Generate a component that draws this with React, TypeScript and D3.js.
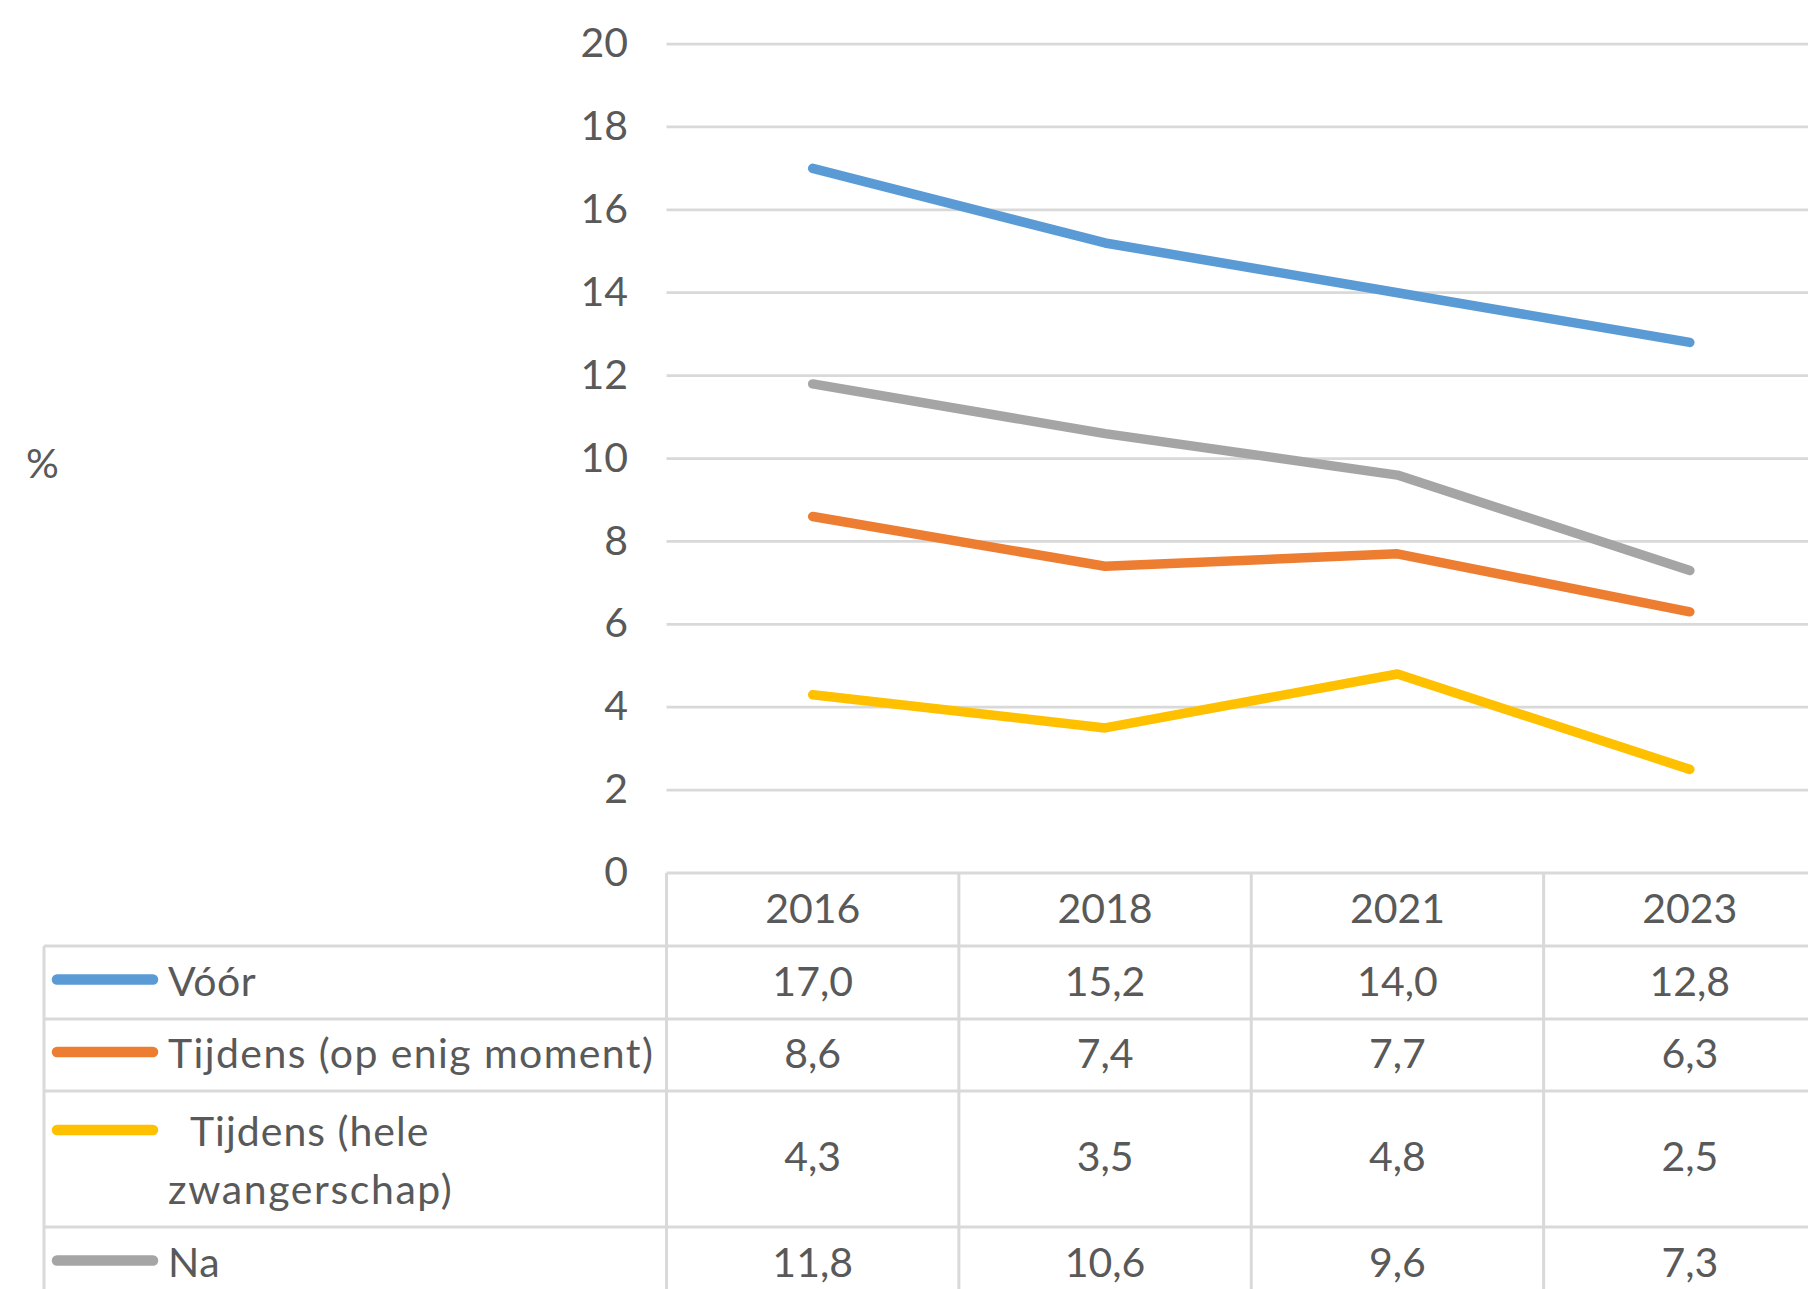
import React from "react";
import * as d3 from "d3";

const years = ["2016", "2018", "2021", "2023"];
const seriesNames = ["Vóór", "Tijdens (op enig moment)", "Tijdens (hele zwangerschap)", "Na"];
const voor = [17.0, 15.2, 14.0, 12.8];
const tijdensMoment = [8.6, 7.4, 7.7, 6.3];
const tijdensHele = [4.3, 3.5, 4.8, 2.5];
const na = [11.8, 10.6, 9.6, 7.3];
const yTicks = [0, 2, 4, 6, 8, 10, 12, 14, 16, 18, 20];
const colors = ["#5B9BD5", "#ED7D31", "#FFC000", "#A5A5A5"];

const W = 1808;
const H = 1289;
const FONT = "Lato, 'Noto Sans', sans-serif";
const TXT = "#595959";
const GRID = "#D9D9D9";
const DY = "0.32em";

export default function App() {
  const seriesValues = [voor, tijdensMoment, tijdensHele, na];
  const plotLeft = 666.5;
  const x = d3.scaleBand<string>().domain(years).range([plotLeft, 1836]).padding(0);
  const y = d3.scaleLinear().domain([0, 20]).range([873, 44]);
  const cx = (yr: string) => (x(yr) as number) + x.bandwidth() / 2;
  const line = d3
    .line<number>()
    .x((_, i) => cx(years[i]))
    .y((d) => y(d));

  const fmt = (v: number) => v.toFixed(1).replace(".", ",");

  const tableTop = y(0);
  const headerBottom = 946;
  const rowBounds = [946, 1019, 1091, 1227, 1300];
  const tableLeft = 44;

  return (
    <svg
      width={W}
      height={H}
      style={{ position: "absolute", left: 0, top: 0, background: "#fff" }}
      fontFamily={FONT}
    >
      <rect x={0} y={0} width={W} height={H} fill="#fff" />
      {yTicks
        .filter((t) => t > 0)
        .map((t) => (
          <line key={t} x1={plotLeft} x2={W} y1={y(t)} y2={y(t)} stroke={GRID} strokeWidth={2.75} />
        ))}
      {yTicks.map((t) => (
        <text key={t} x={628} y={y(t)} dy={DY} textAnchor="end" fontSize={41} fill={TXT}>
          {t}
        </text>
      ))}
      <text x={26} y={465} dy={DY} fontSize={41} fill={TXT}>
        %
      </text>

      <line x1={plotLeft} x2={W} y1={tableTop} y2={tableTop} stroke={GRID} strokeWidth={3} />
      {rowBounds.slice(0, 4).map((b) => (
        <line key={b} x1={tableLeft} x2={W} y1={b} y2={b} stroke={GRID} strokeWidth={3} />
      ))}
      <line x1={tableLeft} x2={tableLeft} y1={headerBottom} y2={H} stroke={GRID} strokeWidth={3} />
      {years.map((yr) => (
        <line
          key={yr}
          x1={x(yr) as number}
          x2={x(yr) as number}
          y1={tableTop}
          y2={H}
          stroke={GRID}
          strokeWidth={3}
        />
      ))}

      {years.map((yr) => (
        <text
          key={yr}
          x={cx(yr)}
          y={(tableTop + headerBottom) / 2}
          dy={DY}
          textAnchor="middle"
          fontSize={41}
          fill={TXT}
        >
          {yr}
        </text>
      ))}

      {seriesValues.map((vals, si) => {
        const top = rowBounds[si];
        const bot = rowBounds[si + 1];
        const mid = (top + bot) / 2;
        const twoLine = si === 2;
        const keyY = twoLine ? 1130 : mid - 3;
        return (
          <g key={si}>
            <line
              x1={57}
              x2={153}
              y1={keyY}
              y2={keyY}
              stroke={colors[si]}
              strokeWidth={10.5}
              strokeLinecap="round"
            />
            {twoLine ? (
              <>
                <text x={190} y={1146} fontSize={41} fill={TXT} letterSpacing={1}>
                  Tijdens (hele
                </text>
                <text x={168} y={1204} fontSize={41} fill={TXT} letterSpacing={1.6}>
                  zwangerschap)
                </text>
              </>
            ) : (
              <text x={168} y={mid} dy={DY} fontSize={41} fill={TXT} letterSpacing={si === 1 ? 1.4 : 0.5}>
                {seriesNames[si]}
              </text>
            )}
            {vals.map((v, i) => (
              <text
                key={i}
                x={cx(years[i])}
                y={twoLine ? 1158 : mid}
                dy={DY}
                textAnchor="middle"
                fontSize={41}
                fill={TXT}
              >
                {fmt(v)}
              </text>
            ))}
          </g>
        );
      })}

      {seriesValues.map((vals, si) => (
        <path
          key={si}
          d={line(vals) || ""}
          fill="none"
          stroke={colors[si]}
          strokeWidth={9.5}
          strokeLinecap="round"
          strokeLinejoin="round"
        />
      ))}
    </svg>
  );
}
